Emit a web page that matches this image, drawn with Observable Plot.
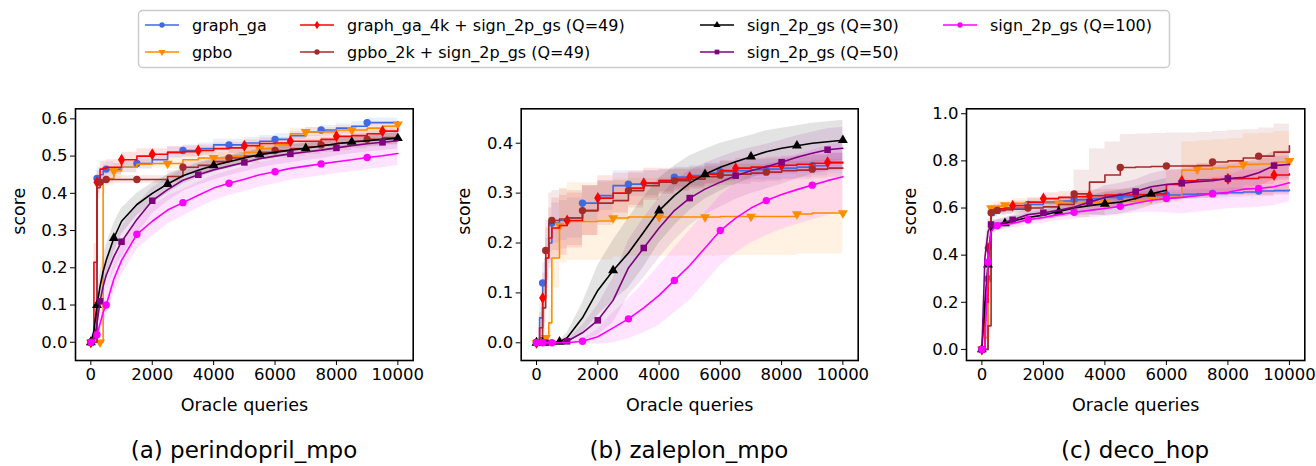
<!DOCTYPE html>
<html><head><meta charset="utf-8">
<script src="https://cdn.jsdelivr.net/npm/d3@7"></script>
<script src="https://cdn.jsdelivr.net/npm/@observablehq/plot@0.6"></script>
<style>
body{margin:0;background:#fff;font-family:"DejaVu Sans",sans-serif;}
#root{position:relative;width:1316px;height:466px;overflow:hidden;background:#fff;}
.panel{position:absolute;top:100px;}
.title{position:absolute;top:437px;font-size:23px;text-align:center;width:400px;font-family:"DejaVu Sans",sans-serif;color:#000;}
#legend{position:absolute;left:0;top:0;}
</style></head><body><div id="root"></div>
<script>
// ---------- data ----------
const queries = [0,100,200,300,400,500,750,1000,1500,2000,2500,3000,3500,4000,4500,5000,5500,6000,6500,7000,7500,8000,8500,9000,9500,10000];
const seriesNames = ["graph_ga","gpbo","graph_ga_4k + sign_2p_gs (Q=49)","gpbo_2k + sign_2p_gs (Q=49)","sign_2p_gs (Q=30)","sign_2p_gs (Q=50)","sign_2p_gs (Q=100)"];
const panelTitles = ["(a) perindopril_mpo","(b) zaleplon_mpo","(c) deco_hop"];
const xTicks = [0,2000,4000,6000,8000,10000];
const yTicksA = [0,0.1,0.2,0.3,0.4,0.5,0.6];
const yTicksB = [0,0.1,0.2,0.3,0.4];
const yTicksC = [0,0.2,0.4,0.6,0.8,1.0];
const xLabel = "Oracle queries";
const yLabel = "score";

// (a) perindopril_mpo
const perindopril_graph_ga = [0,0,0.44,0.45,0.46,0.465,0.465,0.47,0.48,0.49,0.51,0.515,0.52,0.53,0.53,0.535,0.54,0.545,0.555,0.565,0.57,0.575,0.58,0.59,0.59,0.593];
const perindopril_gpbo = [0,0,0,0,0.43,0.44,0.46,0.47,0.478,0.48,0.48,0.49,0.495,0.495,0.5,0.51,0.52,0.53,0.56,0.565,0.565,0.57,0.57,0.575,0.58,0.585];
const perindopril_ga4k = [0,0.215,0.43,0.465,0.467,0.47,0.47,0.49,0.5,0.505,0.51,0.512,0.515,0.52,0.522,0.528,0.534,0.535,0.54,0.54,0.545,0.553,0.555,0.56,0.567,0.573];
const perindopril_gpbo2k = [0,0,0.415,0.43,0.437,0.437,0.437,0.437,0.437,0.437,0.445,0.47,0.475,0.485,0.495,0.5,0.51,0.515,0.52,0.525,0.53,0.535,0.54,0.545,0.55,0.555];
const perindopril_q30 = [0,0.03,0.1,0.15,0.19,0.22,0.28,0.325,0.37,0.4,0.425,0.447,0.462,0.475,0.485,0.495,0.504,0.51,0.516,0.521,0.527,0.533,0.538,0.541,0.545,0.548];
const perindopril_q50 = [0,0.005,0.05,0.11,0.15,0.18,0.23,0.27,0.33,0.38,0.41,0.435,0.45,0.463,0.473,0.483,0.493,0.5,0.506,0.511,0.516,0.522,0.528,0.533,0.537,0.541];
const perindopril_q100 = [0,0,0.02,0.05,0.08,0.1,0.17,0.22,0.29,0.325,0.355,0.375,0.395,0.414,0.427,0.438,0.45,0.458,0.467,0.473,0.479,0.485,0.49,0.496,0.501,0.507];
const perindopril_graph_ga_sd = [0,0,0.03,0.02,0.02,0.02,0.015,0.015,0.015,0.015,0.015,0.015,0.015,0.015,0.015,0.015,0.015,0.015,0.012,0.012,0.012,0.012,0.012,0.012,0.012,0.012];
const perindopril_gpbo_sd = [0,0,0,0,0.03,0.02,0.02,0.015,0.012,0.012,0.015,0.015,0.015,0.015,0.015,0.015,0.015,0.015,0.015,0.012,0.012,0.012,0.012,0.012,0.012,0.012];
const perindopril_ga4k_sd = [0,0.05,0.03,0.02,0.02,0.02,0.02,0.02,0.02,0.015,0.015,0.015,0.015,0.015,0.015,0.015,0.015,0.015,0.015,0.015,0.015,0.015,0.015,0.015,0.015,0.015];
const perindopril_gpbo2k_sd = [0,0,0.03,0.015,0.01,0.01,0.01,0.01,0.01,0.01,0.015,0.02,0.02,0.02,0.02,0.02,0.02,0.02,0.02,0.02,0.02,0.02,0.02,0.02,0.02,0.02];
const perindopril_q30_sd = [0,0.01,0.03,0.035,0.04,0.04,0.04,0.035,0.03,0.028,0.025,0.022,0.02,0.018,0.017,0.016,0.015,0.015,0.015,0.015,0.015,0.015,0.015,0.015,0.015,0.015];
const perindopril_q50_sd = [0,0.005,0.02,0.03,0.035,0.04,0.04,0.04,0.04,0.035,0.032,0.03,0.028,0.027,0.026,0.025,0.025,0.024,0.024,0.023,0.023,0.022,0.022,0.022,0.022,0.022];
const perindopril_q100_sd = [0,0,0.01,0.02,0.03,0.035,0.04,0.04,0.04,0.04,0.038,0.036,0.035,0.034,0.033,0.033,0.033,0.032,0.032,0.032,0.032,0.032,0.032,0.032,0.032,0.032];

// (b) zaleplon_mpo
const zaleplon_graph_ga = [0,0.05,0.12,0.17,0.2,0.24,0.245,0.25,0.28,0.295,0.315,0.318,0.32,0.325,0.332,0.335,0.34,0.343,0.345,0.347,0.348,0.35,0.352,0.355,0.36,0.36];
const zaleplon_gpbo = [0,0,0,0.01,0.04,0.17,0.235,0.243,0.243,0.244,0.25,0.252,0.252,0.252,0.252,0.252,0.252,0.253,0.253,0.253,0.253,0.253,0.258,0.26,0.26,0.26];
const zaleplon_ga4k = [0,0.03,0.09,0.17,0.21,0.23,0.235,0.245,0.265,0.29,0.3,0.31,0.32,0.325,0.328,0.332,0.338,0.345,0.35,0.352,0.354,0.356,0.358,0.36,0.362,0.362];
const zaleplon_gpbo2k = [0,0.01,0.07,0.185,0.24,0.245,0.248,0.25,0.265,0.28,0.285,0.305,0.315,0.322,0.325,0.328,0.333,0.336,0.338,0.34,0.342,0.345,0.346,0.348,0.35,0.35];
const zaleplon_q30 = [0,0,0,0,0,0,0.002,0.01,0.05,0.105,0.145,0.18,0.222,0.265,0.295,0.32,0.338,0.352,0.363,0.373,0.383,0.39,0.395,0.4,0.403,0.406];
const zaleplon_q50 = [0,0,0,0,0,0,0,0.003,0.02,0.045,0.085,0.15,0.19,0.23,0.265,0.29,0.308,0.322,0.335,0.345,0.353,0.362,0.372,0.38,0.387,0.39];
const zaleplon_q100 = [0,0,0,0,0,0,0,0,0.003,0.012,0.03,0.048,0.07,0.095,0.125,0.155,0.19,0.225,0.25,0.27,0.285,0.297,0.307,0.316,0.325,0.333];
const zaleplon_graph_ga_sd = [0,0.03,0.04,0.04,0.04,0.04,0.04,0.04,0.035,0.03,0.03,0.025,0.025,0.022,0.02,0.02,0.02,0.02,0.02,0.02,0.02,0.02,0.02,0.02,0.02,0.02];
const zaleplon_gpbo_sd = [0,0,0,0.01,0.03,0.06,0.075,0.078,0.078,0.078,0.078,0.078,0.078,0.078,0.078,0.078,0.078,0.078,0.078,0.078,0.078,0.078,0.08,0.082,0.082,0.082];
const zaleplon_ga4k_sd = [0,0.03,0.05,0.06,0.06,0.06,0.06,0.055,0.05,0.045,0.04,0.035,0.03,0.025,0.022,0.02,0.02,0.02,0.02,0.018,0.018,0.018,0.018,0.018,0.018,0.018];
const zaleplon_gpbo2k_sd = [0,0.02,0.05,0.06,0.06,0.06,0.06,0.055,0.05,0.045,0.04,0.035,0.03,0.025,0.022,0.02,0.02,0.02,0.02,0.018,0.018,0.018,0.018,0.018,0.018,0.018];
const zaleplon_q30_sd = [0,0,0,0,0,0,0.002,0.01,0.03,0.05,0.06,0.07,0.07,0.065,0.06,0.055,0.05,0.048,0.045,0.043,0.042,0.04,0.04,0.04,0.04,0.04];
const zaleplon_q50_sd = [0,0,0,0,0,0,0,0.003,0.015,0.03,0.045,0.055,0.06,0.06,0.06,0.055,0.052,0.05,0.048,0.046,0.045,0.044,0.043,0.042,0.042,0.042];
const zaleplon_q100_sd = [0,0,0,0,0,0,0,0,0.005,0.015,0.03,0.04,0.05,0.06,0.065,0.07,0.07,0.07,0.07,0.07,0.07,0.07,0.07,0.07,0.07,0.07];

// (c) deco_hop
const deco_graph_ga = [0,0,0.3,0.57,0.58,0.59,0.595,0.6,0.615,0.625,0.63,0.635,0.64,0.645,0.648,0.65,0.653,0.655,0.658,0.66,0.662,0.665,0.668,0.672,0.674,0.676];
const deco_gpbo = [0,0.05,0.29,0.6,0.605,0.608,0.612,0.62,0.62,0.62,0.62,0.62,0.622,0.625,0.628,0.63,0.64,0.645,0.76,0.765,0.77,0.775,0.785,0.787,0.795,0.8];
const deco_ga4k = [0,0.2,0.43,0.59,0.595,0.597,0.6,0.61,0.625,0.64,0.645,0.648,0.652,0.655,0.655,0.657,0.66,0.7,0.715,0.72,0.722,0.724,0.725,0.73,0.74,0.745];
const deco_gpbo2k = [0,0,0.1,0.58,0.585,0.59,0.593,0.595,0.6,0.605,0.615,0.66,0.71,0.74,0.772,0.774,0.776,0.778,0.778,0.78,0.795,0.8,0.812,0.82,0.837,0.864];
const deco_q30 = [0,0.2,0.36,0.51,0.525,0.53,0.535,0.545,0.56,0.57,0.585,0.6,0.61,0.618,0.625,0.64,0.66,0.675,null,null,null,null,null,null,null,null];
const deco_q50 = [0,0.39,0.5,0.53,0.53,0.532,0.54,0.55,0.572,0.58,0.59,0.604,0.625,0.645,0.655,0.67,0.69,0.7,0.705,0.712,0.716,0.725,0.73,0.75,0.78,0.785];
const deco_q100 = [0,0,0.37,0.5,0.515,0.525,0.53,0.535,0.55,0.56,0.572,0.582,0.59,0.598,0.607,0.62,0.633,0.64,0.645,0.652,0.66,0.667,0.68,0.683,0.69,0.707];
const deco_graph_ga_sd = [0,0,0.05,0.02,0.02,0.02,0.02,0.02,0.02,0.02,0.02,0.02,0.02,0.02,0.02,0.02,0.02,0.02,0.02,0.02,0.02,0.02,0.02,0.02,0.02,0.02];
const deco_gpbo_sd = [0,0.03,0.05,0.02,0.02,0.02,0.02,0.02,0.02,0.02,0.02,0.02,0.02,0.02,0.02,0.02,0.02,0.02,0.12,0.12,0.12,0.12,0.13,0.13,0.13,0.13];
const deco_ga4k_sd = [0,0.05,0.05,0.02,0.02,0.02,0.02,0.02,0.02,0.025,0.025,0.025,0.025,0.025,0.025,0.025,0.03,0.06,0.07,0.07,0.07,0.07,0.07,0.08,0.08,0.08];
const deco_gpbo2k_sd = [0,0,0.05,0.02,0.02,0.02,0.02,0.02,0.02,0.02,0.03,0.1,0.14,0.14,0.14,0.14,0.14,0.14,0.14,0.14,0.13,0.13,0.12,0.12,0.12,0.11];
const deco_q30_sd = [0,0.05,0.05,0.03,0.02,0.02,0.02,0.02,0.02,0.02,0.025,0.03,0.04,0.05,0.05,0.05,0.05,0.05,0,0,0,0,0,0,0,0];
const deco_q50_sd = [0,0.05,0.05,0.03,0.02,0.02,0.02,0.02,0.025,0.03,0.03,0.035,0.04,0.05,0.05,0.05,0.055,0.06,0.06,0.06,0.06,0.06,0.06,0.06,0.06,0.06];
const deco_q100_sd = [0,0,0.05,0.03,0.02,0.02,0.02,0.02,0.02,0.025,0.025,0.03,0.03,0.035,0.035,0.04,0.05,0.06,0.07,0.07,0.07,0.07,0.08,0.08,0.08,0.08];

// ---------- styling ----------
const seriesColors = ["#4169e1","#ff8c00","#ff0000","#a52a2a","#000000","#800080","#ff00ff"];
const stepSeries = [true,true,true,true,false,false,false];

const triDown = {draw(ctx,size){const s=Math.sqrt(size*4/Math.sqrt(3)),h=s*Math.sqrt(3)/2;ctx.moveTo(0,h*2/3);ctx.lineTo(-s/2,-h/3);ctx.lineTo(s/2,-h/3);ctx.closePath();}};
const triUp = {draw(ctx,size){const s=Math.sqrt(size*4/Math.sqrt(3)),h=s*Math.sqrt(3)/2;ctx.moveTo(0,-h*2/3);ctx.lineTo(s/2,h/3);ctx.lineTo(-s/2,h/3);ctx.closePath();}};
const thinDiamond = {draw(ctx,size){const a=Math.sqrt(size/1.2),b=a*0.6;ctx.moveTo(0,-a);ctx.lineTo(b,0);ctx.lineTo(0,a);ctx.lineTo(-b,0);ctx.closePath();}};
const circleSym = {draw(ctx,size){const r=Math.sqrt(size/Math.PI);ctx.moveTo(r,0);ctx.arc(0,0,r,0,2*Math.PI);}};
const squareSym = {draw(ctx,size){const w=Math.sqrt(size);ctx.rect(-w/2,-w/2,w,w);}};
const seriesSymbols = [circleSym, triDown, thinDiamond, circleSym, triUp, squareSym, circleSym];

function isMarked(i, s) {
  if (i < 8) return i === 0 || i === 2 + (s % 2) || i === 5 + (s % 3);
  return (i - 8 + (s % 3)) % 3 === 0;
}

const panels = [
  {title: panelTitles[0], values:[perindopril_graph_ga,perindopril_gpbo,perindopril_ga4k,perindopril_gpbo2k,perindopril_q30,perindopril_q50,perindopril_q100],
   sds:[perindopril_graph_ga_sd,perindopril_gpbo_sd,perindopril_ga4k_sd,perindopril_gpbo2k_sd,perindopril_q30_sd,perindopril_q50_sd,perindopril_q100_sd],
   yDomain:[-0.049,0.627], yTicks:yTicksA, left:0, width:440, marginLeft:75, marginRight:27.3, center:244},
  {title: panelTitles[1], values:[zaleplon_graph_ga,zaleplon_gpbo,zaleplon_ga4k,zaleplon_gpbo2k,zaleplon_q30,zaleplon_q50,zaleplon_q100],
   sds:[zaleplon_graph_ga_sd,zaleplon_gpbo_sd,zaleplon_ga4k_sd,zaleplon_gpbo2k_sd,zaleplon_q30_sd,zaleplon_q50_sd,zaleplon_q100_sd],
   yDomain:[-0.0355,0.469], yTicks:yTicksB, left:440, width:440, marginLeft:80.7, marginRight:22.3, center:689},
  {title: panelTitles[2], values:[deco_graph_ga,deco_gpbo,deco_ga4k,deco_gpbo2k,deco_q30,deco_q50,deco_q100],
   sds:[deco_graph_ga_sd,deco_gpbo_sd,deco_ga4k_sd,deco_gpbo2k_sd,deco_q30_sd,deco_q50_sd,deco_q100_sd],
   yDomain:[-0.047,1.021], yTicks:yTicksC, left:880, width:436, marginLeft:86, marginRight:11.7, center:1135}
];

const root = document.getElementById("root");

panels.forEach(p => {
  const bySeries = seriesNames.map((name, s) => queries.map((q, i) => {
    const v = p.values[s][i], sd = p.sds[s][i];
    return {i, x: q, y: v, lo: v == null ? null : v - sd, hi: v == null ? null : v + sd};
  }));
  const marks = [];
  bySeries.forEach((d, s) => {
    marks.push(Plot.areaY(d, {x:"x", y1:"lo", y2:"hi", fill: seriesColors[s], fillOpacity: 0.11, curve: stepSeries[s] ? "step-after" : "linear", clip: true}));
  });
  bySeries.forEach((d, s) => {
    marks.push(Plot.line(d, {x:"x", y:"y", stroke: seriesColors[s], strokeWidth: 1.6, curve: stepSeries[s] ? "step-after" : "linear", clip: true}));
    marks.push(Plot.dot(d.filter(r => r.y != null && isMarked(r.i, s)), {x:"x", y:"y", symbol: seriesSymbols[s], r: 3.7, fill: seriesColors[s], stroke: "none"}));
  });
  marks.push(Plot.frame({stroke:"black", strokeWidth:1.6}));
  marks.push(Plot.axisY({ticks: p.yTicks, tickFormat: d3.format(".1f"), tickSize: 5, tickPadding: 3, fontSize: 16.5, label: null}));
  marks.push(Plot.axisX({ticks: xTicks, tickFormat: d3.format("d"), tickSize: 5, tickPadding: 3, fontSize: 16.5, label: null}));
  marks.push(Plot.text([xLabel], {text: d => d, frameAnchor: "bottom", dy: 50, fontSize: 17.5, fill: "black"}));
  marks.push(Plot.text([yLabel], {text: d => d, frameAnchor: "left", rotate: -90, dx: -56.5, fontSize: 17.5, fill: "black"}));
  const chart = Plot.plot({
    width: p.width, height: 320,
    marginTop: 8.3, marginBottom: 60, marginLeft: p.marginLeft, marginRight: p.marginRight,
    x: {domain: [-500, 10500]},
    y: {domain: p.yDomain},
    style: {fontFamily: "DejaVu Sans", fontSize: "16.5px", color: "black", background: "transparent", overflow: "visible"},
    marks
  });
  const wrap = document.createElement("div");
  wrap.className = "panel";
  wrap.style.left = p.left + "px";
  wrap.appendChild(chart);
  root.appendChild(wrap);
  const t = document.createElement("div");
  t.className = "title";
  t.style.left = (p.center - 200) + "px";
  t.textContent = p.title;
  root.appendChild(t);
});

// ---------- legend ----------
const legendCols = [145, 300, 700, 943];
const legendRows = [25, 52];
const svg = d3.select(root).append("svg").attr("id","legend").attr("width",1316).attr("height",80);
svg.append("rect").attr("x",138.5).attr("y",10.5).attr("width",1031).attr("height",57).attr("rx",4)
  .attr("fill","white").attr("stroke","#cccccc").attr("stroke-width",1.5);
seriesNames.forEach((name, s) => {
  const cx = legendCols[Math.floor(s / 2)], cy = legendRows[s % 2];
  const g = svg.append("g");
  g.append("line").attr("x1",cx).attr("x2",cx+34).attr("y1",cy).attr("y2",cy).attr("stroke",seriesColors[s]).attr("stroke-width",1.6);
  g.append("path").attr("transform",`translate(${cx+17},${cy})`).attr("d", d3.symbol(seriesSymbols[s], 22)()).attr("fill",seriesColors[s]);
  g.append("text").attr("x",cx+47).attr("y",cy).attr("dy","0.35em").attr("font-family","DejaVu Sans").attr("font-size",16).attr("fill","black").text(name);
});
</script></body></html>
